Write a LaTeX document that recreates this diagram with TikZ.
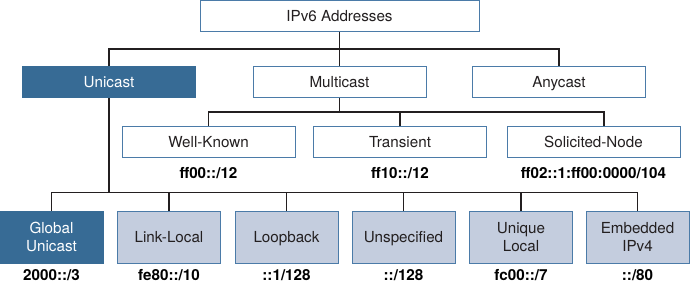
\documentclass[tikz,border=0pt]{standalone}
\usepackage{fontspec}
\setmainfont{TeX Gyre Heros}
\usepackage{xcolor}
\usetikzlibrary{positioning}
\definecolor{UniBlue}{HTML}{376B95}
\definecolor{EdgeBlue}{HTML}{4B7BA8}
\definecolor{PaleBlue}{HTML}{C4CDDE}
\definecolor{InkGray}{HTML}{231F20}

\begin{document}
\begin{tikzpicture}[
    x=1pt,y=-1pt,
    font=\fontsize{15.2}{18.5}\selectfont,
    tree/.style={line width=1.7pt,draw=InkGray},
    oneline/.style={text height=14pt,text depth=3pt},
    plain/.style={draw=EdgeBlue,fill=white,line width=1pt,text=InkGray,
      minimum width=173pt,minimum height=31pt,inner sep=0pt,align=center,
      oneline},
    primary/.style={plain,fill=UniBlue,draw=UniBlue,text=white},
    sub/.style={draw=EdgeBlue,fill=PaleBlue,line width=1pt,text=InkGray,
      minimum width=103pt,minimum height=52pt,inner sep=0pt,align=center},
    darksub/.style={sub,fill=UniBlue,draw=UniBlue,text=white},
    netlabel/.style={font=\fontsize{15.2}{18.5}\selectfont\bfseries,text=black,
      oneline}
  ]
    \useasboundingbox (0,0) rectangle (690,283);

    % Top level and address types.
    \node[plain,minimum width=279pt] (addr) at (339.5,15.75) {IPv6 Addresses};
    \node[primary] (unicast) at (109,82.5) {Unicast};
    \node[plain] (multicast) at (339.5,82.5) {Multicast};
    \node[plain] (anycast) at (559,82.5) {Anycast};
    \coordinate (j1) at (339.5,49);
    \draw[tree] (addr) -- (multicast);
    \draw[tree] (unicast.north) |- (j1) -| (anycast.north);

    % Multicast scopes.
    \node[plain] (wellknown) at (208.5,142.5) {Well-Known};
    \node[plain] (transient) at (400,142.5) {Transient};
    \node[plain] (solicited) at (593.5,142.5) {Solicited-Node};
    \node[netlabel] (wkpre) at (208.5,173) {ff00::/12};
    \node[netlabel] (trpre) at (400,173) {ff10::/12};
    \node[netlabel] (snpre) at (593.5,173) {ff02::1:ff00:0000/104};
    \coordinate (j2) at (339.5,112);
    \draw[tree] (multicast) -- (j2);
    \draw[tree] (wellknown.north) |- (j2) -| ([xshift=10.5pt]solicited.north);
    \draw[tree] (transient.north) -- (transient.north |- j2);

    % Unicast kinds.
    \node[darksub] (global) at (51.5,237) {Global\\Unicast};
    \node[sub,oneline] (linklocal) at (169,237) {Link-Local};
    \node[sub,oneline] (loopback) at (286.5,237) {Loopback};
    \node[sub,oneline] (unspec) at (403.5,237) {Unspecified};
    \node[sub] (ula) at (521,237) {Unique\\Local};
    \node[sub] (embed) at (637.5,237) {Embedded\\IPv4};
    \node[netlabel] (glpre) at (51.5,275) {2000::/3};
    \node[netlabel] (llpre) at (169,275) {fe80::/10};
    \node[netlabel] (lbpre) at (286.5,275) {::1/128};
    \node[netlabel] (unpre) at (403.5,275) {::/128};
    \node[netlabel] (ulpre) at (521,275) {fc00::/7};
    \node[netlabel] (empre) at (637.5,275) {::/80};
    \coordinate (j3) at (109,192.5);
    \draw[tree] (unicast) -- (j3);
    \draw[tree] (global.north) |- (j3) -| (embed.north);
    \foreach \kind in {linklocal,loopback,unspec,ula}
      \draw[tree] (\kind.north) -- (\kind.north |- j3);
  \end{tikzpicture}
\end{document}
